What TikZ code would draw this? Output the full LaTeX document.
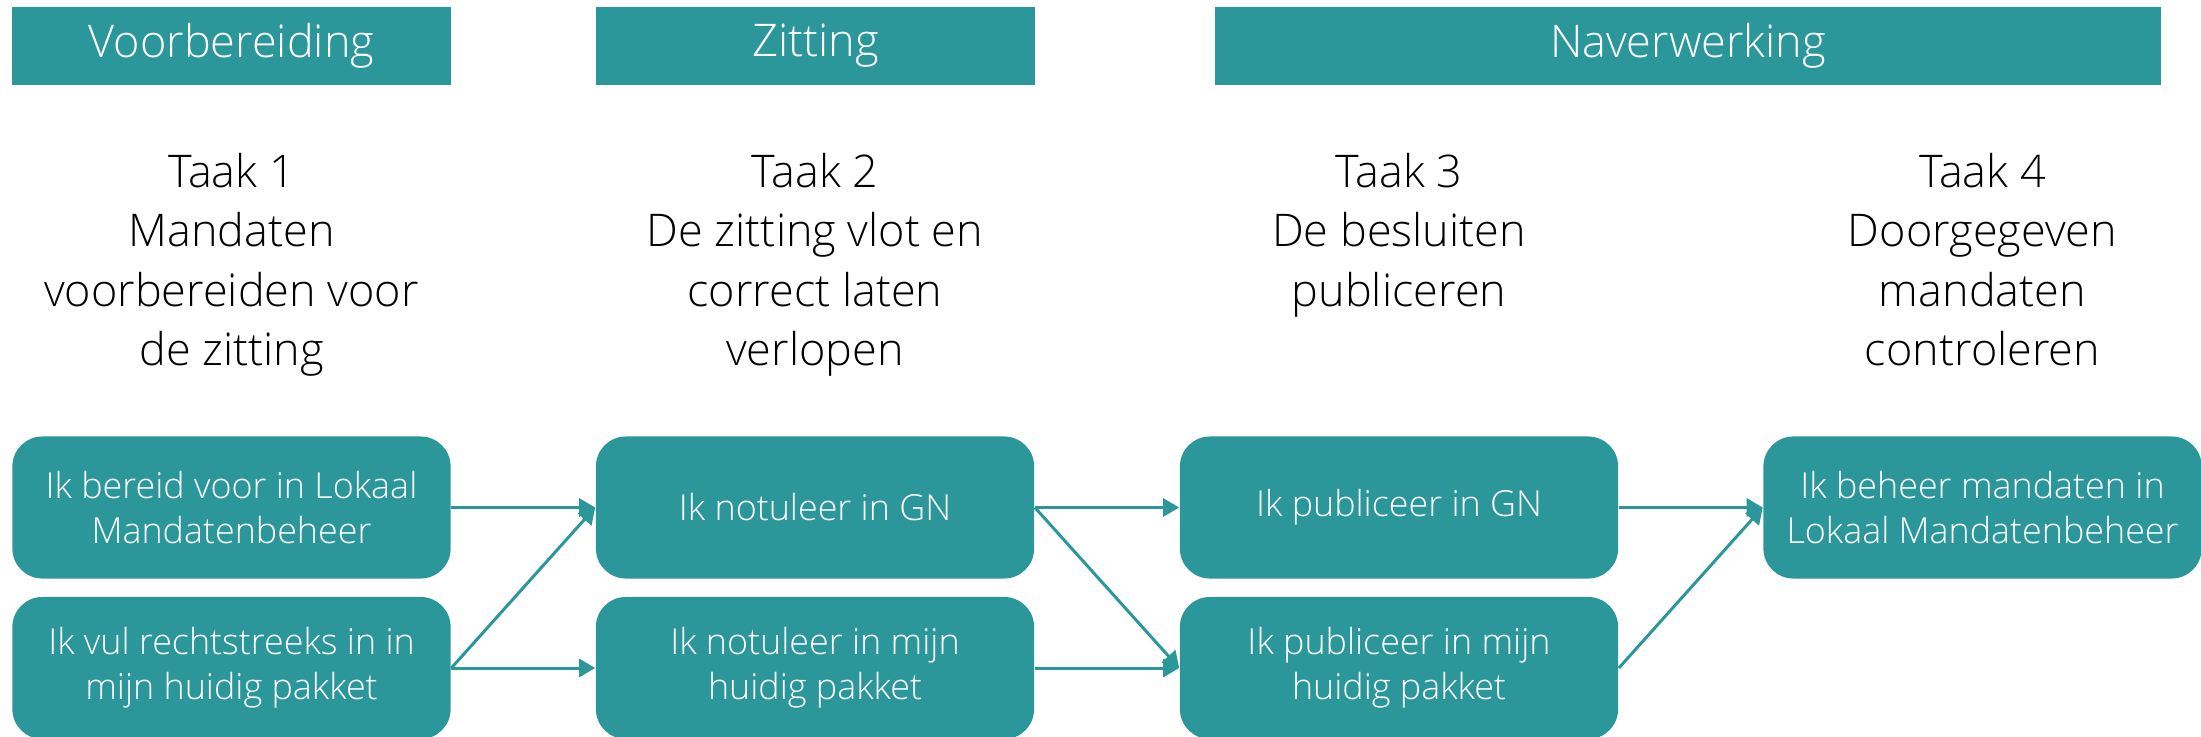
\documentclass[tikz,border=0pt]{standalone}
\usepackage{fontspec}
\setmainfont{Open Sans}[UprightFont=* Light]
\usetikzlibrary{arrows.meta,positioning}
\definecolor{petrol}{RGB}{44,151,155}

\begin{document}
\begin{tikzpicture}[x=0.01cm,y=-0.01cm,
  kop/.style={fill=petrol,text=white,minimum height=0.78cm,inner sep=0pt,
    font=\fontsize{12.8}{15}\selectfont},
  taak/.style={anchor=north,align=center,inner sep=0pt,
    font=\fontsize{12.8}{16.8}\selectfont},
  stap/.style={fill=petrol,text=white,rounded corners=0.3cm,minimum width=4.38cm,
    minimum height=1.42cm,align=center,inner sep=0pt,
    font=\fontsize{10.2}{12.8}\selectfont},
  pijl/.style={petrol,line width=0.85pt,-{Triangle[length=1.6mm,width=1.8mm]}}]
  \useasboundingbox(0,0)rectangle(2201,737);
  \node[kop,minimum width=4.39cm](voor)at(231.5,46){Voorbereiding};
  \node[kop,minimum width=4.39cm](zit)at(815.5,46){Zitting};
  \node[kop,minimum width=9.46cm](na)at(1688,46){Naverwerking};
  \node[taak](t1)at(231.5,153){Taak 1\\Mandaten\\voorbereiden voor\\de zitting};
  \node[taak](t2)at(815,153){Taak 2\\De zitting vlot en\\correct laten\\verlopen};
  \node[taak](t3)at(1399,153){Taak 3\\De besluiten\\publiceren};
  \node[taak](t4)at(1982.5,153){Taak 4\\Doorgegeven\\mandaten\\controleren};
  \node[stap](s11)at(231.5,507.5){Ik bereid voor in Lokaal\\Mandatenbeheer};
  \node[stap](s12)at(231.5,668){Ik vul rechtstreeks in in\\mijn huidig pakket};
  \node[stap](s21)at(815,507.5){Ik notuleer in GN};
  \node[stap](s22)at(815,668){Ik notuleer in mijn\\huidig pakket};
  \node[stap](s31)at(1399,507.5){Ik publiceer in GN};
  \node[stap](s32)at(1399,668){Ik publiceer in mijn\\huidig pakket};
  \node[stap](s41)at(1982.5,507.5){Ik beheer mandaten in\\Lokaal Mandatenbeheer};
  \draw[pijl](s11.east)--(s21.west);
  \draw[pijl](s12.east)--(s21.west);
  \draw[pijl](s12.east)--(s22.west);
  \draw[pijl](s21.east)--(s31.west);
  \draw[pijl](s21.east)--(s32.west);
  \draw[pijl](s22.east)--(s32.west);
  \draw[pijl](s31.east)--(s41.west);
  \draw[pijl](s32.east)--(s41.west);
\end{tikzpicture}
\end{document}
